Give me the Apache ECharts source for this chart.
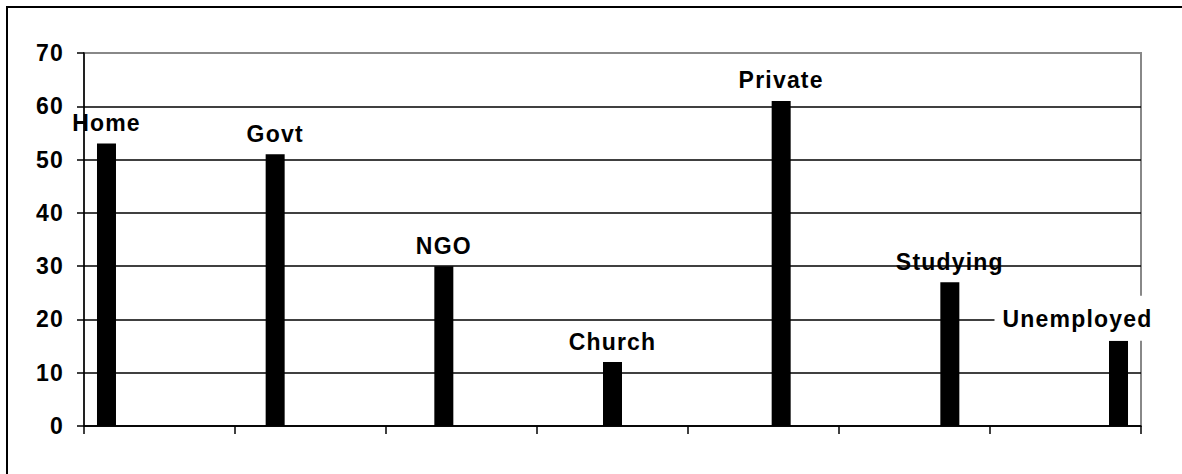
<!DOCTYPE html>
<html>
<head>
<meta charset="utf-8">
<script src="https://cdn.jsdelivr.net/npm/echarts@6/dist/echarts.min.js"></script>
<style>
  html, body { margin: 0; padding: 0; background: #fff; }
  #chart { width: 1182px; height: 474px; }
  /* slightly spaced bold lettering */
  #chart text { letter-spacing: 1.2px; }
</style>
</head>
<body>
<div id="chart"></div>
<script>
// Destination categories (one bar each)
const categories = ['Home', 'Govt', 'NGO', 'Church', 'Private', 'Studying', 'Unemployed'];
// Values per destination
const values = [53, 51, 30, 12, 61, 27, 16];
// Value axis range
const yMin = 0;
const yMax = 70;
const yStep = 10;

const FONT = 'Liberation Sans, Arial, sans-serif';

// Each destination is its own series, so the bars sit side by side
// inside a cluster and each one carries its series name as a label.
const series = categories.map((name, i) => {
  const s = {
    type: 'bar',
    name: name,
    data: categories.map((_, j) => (j === i ? values[i] : null)),
    barWidth: 19,
    barGap: '-7%',
    itemStyle: { color: '#000' },
    silent: true,
    label: {
      show: true,
      position: 'top',
      distance: 9,
      formatter: '{a}',
      fontFamily: FONT,
      fontWeight: 'bold',
      fontSize: 23,
      color: '#000'
    }
  };
  if (name === 'Unemployed') {
    // pulled left so it stays inside the frame, on a white box
    s.label.offset = [-41, 0];
    s.label.distance = 0;
    s.label.backgroundColor = '#fff';
    s.label.padding = [12, 14, 10, 14];
  }
  return s;
});

const chart = echarts.init(document.getElementById('chart'), null, { renderer: 'svg' });
chart.setOption({
  animation: false,
  backgroundColor: '#fff',
  grid: {
    left: 84, right: 41, top: 53, bottom: 48,
    show: true,
    borderColor: '#888',
    borderWidth: 2,
    backgroundColor: 'transparent'
  },
  graphic: [{
    type: 'rect',
    shape: { x: 7, y: 7, width: 1220, height: 520 },
    style: { fill: 'none', stroke: '#000', lineWidth: 2 },
    silent: true,
    z: 100
  }],
  xAxis: {
    type: 'category',
    data: categories,
    boundaryGap: true,
    axisLine: { show: true, lineStyle: { color: '#000', width: 1.5 } },
    axisTick: { show: true, length: 8, lineStyle: { color: '#000', width: 1.5 } },
    axisLabel: { show: false },
    splitLine: { show: false }
  },
  yAxis: {
    type: 'value',
    min: yMin,
    max: yMax,
    interval: yStep,
    axisLine: { show: true, lineStyle: { color: '#000', width: 1.5 } },
    axisTick: { show: true, length: 7, lineStyle: { color: '#000', width: 1.5 } },
    axisLabel: {
      margin: 20,
      fontFamily: FONT,
      fontWeight: 'bold',
      fontSize: 23,
      color: '#000'
    },
    splitLine: {
      show: true,
      lineStyle: {
        color: ['#000', '#000', '#000', '#000', '#000', '#000', '#000', '#888'],
        width: 1.5
      }
    }
  },
  series: series
});
</script>
</body>
</html>
